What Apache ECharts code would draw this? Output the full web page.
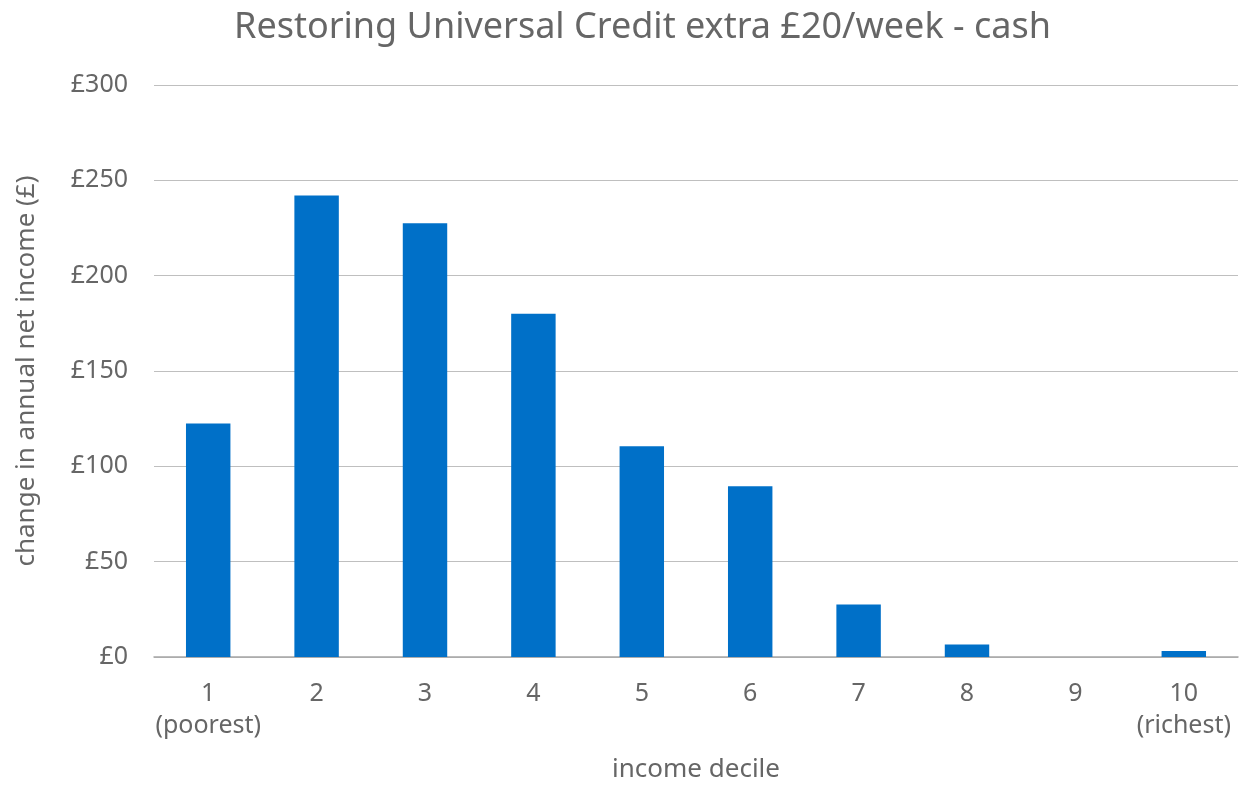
<!DOCTYPE html>
<html>
<head>
<meta charset="utf-8">
<script src="https://cdn.jsdelivr.net/npm/echarts@6/dist/echarts.min.js"></script>
<style>
  html, body { margin: 0; padding: 0; background: #fff; }
  #chart { width: 1248px; height: 785px; }
</style>
</head>
<body>
<div id="chart"></div>
<script>
// Income deciles and the annual cash gain per household (£)
const deciles = ['1\n(poorest)', '2', '3', '4', '5', '6', '7', '8', '9', '10\n(richest)'];
const gain = [122.5, 242, 227.5, 180, 110.5, 89.5, 27.5, 6.5, 0, 3.2];
const yTicks = { min: 0, max: 300, interval: 50 };

const textColor = '#666666';
const fontFamily = '"Noto Sans", "Open Sans", sans-serif';

const chart = echarts.init(document.getElementById('chart'), null, { renderer: 'canvas' });
chart.setOption({
  animation: false,
  textStyle: { fontFamily: fontFamily, color: textColor },
  title: {
    text: 'Restoring Universal Credit extra £20/week - cash',
    left: 229,
    top: 5,
    textStyle: { fontFamily: fontFamily, fontSize: 36, fontWeight: 'normal', color: textColor }
  },
  grid: { left: 154, right: 10, top: 85, bottom: 128, containLabel: false, outerBoundsMode: 'none' },
  xAxis: {
    type: 'category',
    data: deciles,
    name: 'income decile',
    nameLocation: 'middle',
    nameGap: 100,
    nameTextStyle: { fontSize: 26, color: textColor, fontFamily: fontFamily },
    axisLine: { lineStyle: { color: '#a6a6a6', width: 1.5 } },
    axisTick: { show: false },
    axisLabel: { interval: 0, color: textColor, fontSize: 25, margin: 21, lineHeight: 32, fontFamily: fontFamily }
  },
  yAxis: {
    type: 'value',
    min: yTicks.min,
    max: yTicks.max,
    interval: yTicks.interval,
    name: 'change in annual net income (£)',
    nameLocation: 'middle',
    nameGap: 114,
    nameRotate: 90,
    nameTextStyle: { fontSize: 26, color: textColor, fontFamily: fontFamily },
    axisLine: { show: false },
    axisTick: { show: false },
    axisLabel: { color: textColor, fontSize: 25, margin: 26, fontFamily: fontFamily, formatter: v => '£' + v },
    splitLine: { lineStyle: { color: '#bfbfbf', width: 1 } }
  },
  series: [{
    type: 'bar',
    data: gain,
    barWidth: '41%',
    itemStyle: { color: '#0070c8' }
  }]
});
</script>
</body>
</html>
